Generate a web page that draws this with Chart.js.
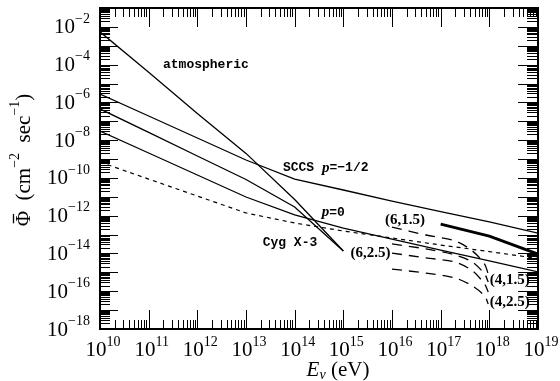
<!DOCTYPE html>
<html><head><meta charset="utf-8">
<script src="https://cdn.jsdelivr.net/npm/chart.js@4/dist/chart.umd.min.js"></script>
<style>html,body{margin:0;padding:0;background:#fff;}canvas{display:block;}</style>
</head><body>
<canvas id="c" width="560" height="381"></canvas>
<script>
// ---- data ----
const energies = [1e10,1e11,1e12,1e13,1e14,1e15,1e16,1e17,1e18,1e19];
const atmosphericFlux = [5.5e-3, 4.0e-5, 2.6e-7, 2.0e-9, 7.2e-12, 1.35e-14];
const cygX3Flux = [4.5e-7, 2.6e-8, 1.45e-9, 8.3e-11, 2.9e-12, 1.35e-14];
const sccsHalfFlux = [2.8e-6,1.9e-7,1.3e-8,8.9e-10,8.7e-11,2.3e-11,6.0e-12,1.66e-12,4.7e-13,1.2e-13];
const sccsP0Flux = [3.05e-8,2.1e-9,1.43e-10,9.8e-12,1.1e-12,2.2e-13,5.8e-14,1.5e-14,4.0e-15,1.05e-15];
const dottedFlux = [6.9e-10,8.7e-11,1.1e-11,1.4e-12,4.1e-13,1.55e-13,6.6e-14,2.8e-14,1.26e-14,5.4e-15];
const defectEnergies = [1e16, 5e16, 2e17, 4.5e17, 8e17, 9.5e17];
const defect_6_15 = [2.5e-13, 9.5e-14, 4.6e-14, 1.35e-14, 2.75e-15, 8.1e-16];
const defect_4_15 = [3.2e-14, 1.74e-14, 8.3e-15, 3.5e-15, 8.1e-16, 3.1e-16];
const defect_6_25 = [1.05e-14, 5.8e-15, 3.5e-15, 1.2e-15, 2.4e-16, 9.1e-17];
const defect_4_25 = [1.5e-15, 9.1e-16, 5.0e-16, 1.9e-16, 5.6e-17, 2.1e-17];
const thickEnergies = [1e17, 1e18, 1e19];
const thickFlux = [3.6e-13, 8.3e-14, 9.3e-15];
const xTickExponents = [10,11,12,13,14,15,16,17,18,19];
const yTickExponents = [-2,-4,-6,-8,-10,-12,-14,-16,-18];
const labelTexts = ['atmospheric','SCCS','p=0','Cyg X-3','(6,1.5)','(6,2.5)','(4,1.5)','(4,2.5)'];
const labelE    = [1.97e11, 5.75e13, 3.6e14, 2.2e13, 7.2e15, 1.4e15, 1.02e18, 1.02e18];
const labelFlux = [9.8e-5, 3.5e-10, 1.5e-12, 3.5e-14, 5.6e-13, 1.0e-14, 3.9e-16, 2.6e-17];

const pts = (xs, ys) => ys.map((y,i)=>({x:xs[i], y:y}));
const SERIF = "'Liberation Serif','DejaVu Serif',serif";
const MONO = "'Liberation Mono','DejaVu Sans Mono',monospace";

function ds(xs, ys, opt){
  return Object.assign({data: pts(xs, ys), borderColor:'#000', borderWidth:1.3,
    pointRadius:0, fill:false, tension:0}, opt||{});
}

function drawSegs(ctx, segs, x, y, align){
  let w = 0;
  segs.forEach(s=>{ctx.font=s[1]; w += ctx.measureText(s[0]).width;});
  let cx = align==='right' ? x-w : (align==='center' ? x-w/2 : x);
  const starts=[];
  segs.forEach(s=>{ctx.font=s[1]; starts.push(cx); ctx.fillText(s[0], cx, y+(s[2]||0)); cx += ctx.measureText(s[0]).width;});
  return starts;
}

const framePlugin = {
  id:'frame',
  afterDraw(chart){
    const ctx = chart.ctx, xs = chart.scales.x, ys = chart.scales.y, a = chart.chartArea;
    ctx.save();
    ctx.strokeStyle='#000'; ctx.fillStyle='#000';
    ctx.lineWidth = 1;
    ctx.beginPath();
    const majX = 19, minX = 9, majY = 18, minY = 10;
    for (let d=10; d<=19; d++){
      const px = Math.round(xs.getPixelForValue(Math.pow(10,d)))+0.5;
      ctx.moveTo(px,a.bottom); ctx.lineTo(px,a.bottom-majX);
      ctx.moveTo(px,a.top); ctx.lineTo(px,a.top+majX);
      if (d<19) for (let m=2;m<=9;m++){
        const p = Math.round(xs.getPixelForValue(m*Math.pow(10,d)))+0.5;
        ctx.moveTo(p,a.bottom); ctx.lineTo(p,a.bottom-minX);
        ctx.moveTo(p,a.top); ctx.lineTo(p,a.top+minX);
      }
    }
    for (let d=-18; d<=-1; d++){
      const py = Math.round(ys.getPixelForValue(Math.pow(10,d)))+0.5;
      ctx.moveTo(a.left,py); ctx.lineTo(a.left+majY,py);
      ctx.moveTo(a.right,py); ctx.lineTo(a.right-majY-2,py);
      if (d<-1) for (let m=2;m<=9;m++){
        const p = Math.round(ys.getPixelForValue(m*Math.pow(10,d)))+0.5;
        ctx.moveTo(a.left,p); ctx.lineTo(a.left+minY,p);
        ctx.moveTo(a.right,p); ctx.lineTo(a.right-minY-1,p);
      }
    }
    ctx.stroke();
    ctx.lineWidth = 2;
    ctx.strokeRect(a.left, a.top, a.right-a.left, a.bottom-a.top);

    ctx.textBaseline='middle';
    yTickExponents.forEach(e=>{
      const py = ys.getPixelForValue(Math.pow(10,e));
      drawSegs(ctx, [['10','21px '+SERIF,0],['\u2212'+Math.abs(e),'14px '+SERIF,-9]], 90, py+1, 'right');
    });
    xTickExponents.forEach(e=>{
      const px = xs.getPixelForValue(Math.pow(10,e));
      drawSegs(ctx, [['10','21px '+SERIF,0],[String(e),'14px '+SERIF,-8]], px+3, a.bottom+21, 'center');
    });
    drawSegs(ctx, [['E','italic 21px '+SERIF,0],['\u03BD','italic 14px '+SERIF,5],[' (eV)','21px '+SERIF,0]], 338, a.bottom+41, 'center');
    ctx.save();
    ctx.translate(24, 160);
    ctx.rotate(-Math.PI/2);
    const st = drawSegs(ctx, [['\u03A6','21px '+SERIF,0],['  (cm','21px '+SERIF,0],['\u22122','14px '+SERIF,-9],['  sec','21px '+SERIF,0],['\u22121','14px '+SERIF,-9],[')','21px '+SERIF,0]], 0, 0, 'center');
    ctx.font='21px '+SERIF;
    const pw = ctx.measureText('\u03A6').width;
    ctx.lineWidth=1.3;
    ctx.beginPath(); ctx.moveTo(st[0]+3, -10.5); ctx.lineTo(st[0]+pw-3, -10.5); ctx.stroke();
    ctx.restore();

    const bold = 'bold 13px '+MONO;
    labelTexts.forEach((t,i)=>{
      const px = xs.getPixelForValue(labelE[i]), py = ys.getPixelForValue(labelFlux[i]);
      if (t==='SCCS'){
        drawSegs(ctx, [['SCCS ',bold,0],['p','italic bold 15px '+SERIF,0],['=\u22121/2',bold,0]], px, py, 'left');
      } else if (t==='p=0'){
        drawSegs(ctx, [['p','italic bold 15px '+SERIF,0],['=0',bold,0]], px, py, 'left');
      } else if (t[0]==='('){
        drawSegs(ctx, [[t,'bold 15px '+SERIF,0]], px, py, 'left');
      } else {
        drawSegs(ctx, [[t,bold,0]], px, py, 'left');
      }
    });
    ctx.restore();
  }
};

new Chart(document.getElementById('c'), {
  type:'line',
  data:{datasets:[
    ds(energies.slice(0,6), atmosphericFlux),
    ds(energies.slice(0,6), cygX3Flux),
    ds(energies, sccsHalfFlux),
    ds(energies, sccsP0Flux),
    ds(energies, dottedFlux, {borderDash:[4,4], borderWidth:1.2}),
    ds(defectEnergies, defect_6_15, {borderDash:[10,7], tension:0.3}),
    ds(defectEnergies, defect_4_15, {borderDash:[10,7], tension:0.3}),
    ds(defectEnergies, defect_6_25, {borderDash:[10,7], tension:0.3}),
    ds(defectEnergies, defect_4_25, {borderDash:[10,7], tension:0.3}),
    ds(thickEnergies, thickFlux, {borderWidth:2.8})
  ]},
  options:{
    responsive:false, animation:false,
    layout:{padding:{left:100, top:8, right:22, bottom:52}},
    plugins:{legend:{display:false}, tooltip:{enabled:false}},
    scales:{
      x:{type:'logarithmic', min:1e10, max:1e19, display:false},
      y:{type:'logarithmic', min:1e-18, max:1e-1, display:false}
    }
  },
  plugins:[framePlugin]
});
</script>
</body></html>
